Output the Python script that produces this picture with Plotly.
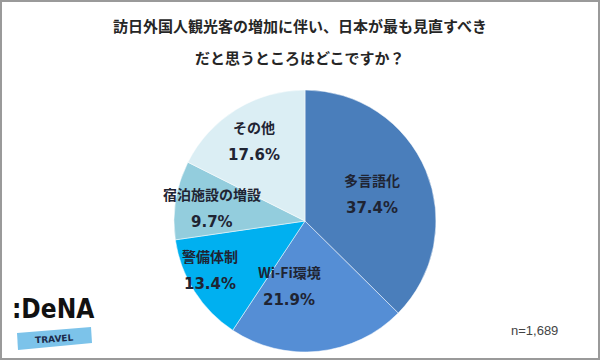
import plotly.graph_objects as go

# ---- data ----
categories = ["多言語化", "Wi-Fi環境", "警備体制", "宿泊施設の増設", "その他"]
values = [37.4, 21.9, 13.4, 9.7, 17.6]
colors = ["#4a7ebb", "#558ed5", "#00b0f0", "#93cddd", "#dbeef4"]
title_lines = ["訪日外国人観光客の増加に伴い、日本が最も見直すべき", "だと思うところはどこですか？"]
sample_note = "n=1,689"

W, H = 600, 360
# label centre positions (pixels) for each slice label
label_px = [(372, 194), (289, 286), (210, 270), (212, 208), (254, 141)]

def px(x):
    return x / W

def py(y):
    return 1 - y / H

fig = go.Figure(go.Pie(
    labels=categories,
    values=values,
    sort=False,
    direction="clockwise",
    rotation=0,
    marker=dict(colors=colors, line=dict(color="white", width=0.5)),
    textinfo="none",
    hoverinfo="label+percent",
    domain=dict(x=[px(174), px(436)], y=[py(352), py(90)]),
    showlegend=False,
))

font_cjk = "Noto Sans CJK JP"
annotations = []
for i, t in enumerate(title_lines):
    annotations.append(dict(
        text=f"<b>{t}</b>", x=0.5, y=py(26 + i * 32), xref="paper", yref="paper",
        showarrow=False, font=dict(family=font_cjk, size=15, color="#262626"),
        xanchor="center", yanchor="middle"))

for (cx, cy), name, v in zip(label_px, categories, values):
    annotations.append(dict(
        text=f"<b>{name}</b>", x=px(cx), y=py(cy - 14), xref="paper", yref="paper",
        showarrow=False, font=dict(family=font_cjk, size=14, color="#1f2433"),
        xanchor="center", yanchor="middle"))
    annotations.append(dict(
        text=f"<b>{v:.1f}%</b>", x=px(cx), y=py(cy + 14), xref="paper", yref="paper",
        showarrow=False, font=dict(family="DejaVu Sans", size=15, color="#1f2433"),
        xanchor="center", yanchor="middle"))

annotations.append(dict(
    text=sample_note, x=px(560), y=py(330), xref="paper", yref="paper",
    showarrow=False, font=dict(family="Liberation Sans", size=13, color="#444444"),
    xanchor="right", yanchor="middle"))

# logo
annotations.append(dict(
    text="<b>:DeNA</b>", x=px(53), y=py(309), xref="paper", yref="paper",
    showarrow=False, font=dict(family="DejaVu Sans Condensed", size=26, color="#111111"),
    xanchor="center", yanchor="middle"))
annotations.append(dict(
    text="<b>TRAVEL</b>", x=px(54), y=py(339), xref="paper", yref="paper",
    showarrow=False, font=dict(family="DejaVu Sans", size=9, color="#1b2a4a"),
    xanchor="center", yanchor="middle", textangle=-4))

shapes = [
    dict(type="path", xref="paper", yref="paper",
         path=f"M {px(17)} {py(333)} L {px(91)} {py(327)} L {px(92)} {py(343)} L {px(18)} {py(350)} Z",
         fillcolor="#7cc3ea", line=dict(width=0), layer="below"),
    dict(type="rect", xref="paper", yref="paper", x0=px(1), x1=px(599), y0=py(359), y1=py(1),
         line=dict(color="#9a9a9a", width=2), fillcolor="rgba(0,0,0,0)"),
]

fig.update_layout(
    width=W, height=H,
    margin=dict(l=0, r=0, t=0, b=0),
    paper_bgcolor="white", plot_bgcolor="white",
    annotations=annotations, shapes=shapes,
)

fig.write_html("out.html", config={"displayModeBar": False},
               post_script="document.body.style.margin='0';document.body.style.overflow='hidden';")
